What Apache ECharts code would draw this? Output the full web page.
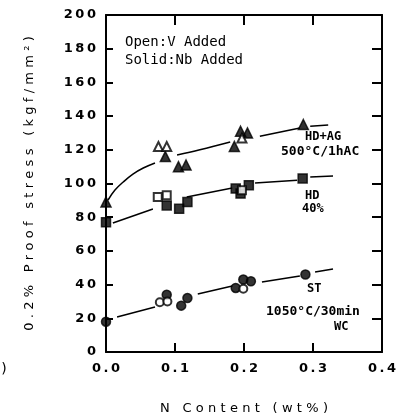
<!DOCTYPE html>
<html>
<head>
<meta charset="utf-8">
<script src="https://cdn.jsdelivr.net/npm/echarts@6/dist/echarts.min.js"></script>
<style>
  html, body { margin: 0; padding: 0; background: #fff; }
  #chart { width: 405px; height: 419px; }
</style>
</head>
<body>
<div id="chart"></div>
<script>
// --- data (x: N wt%, y: kgf/mm2) ---
const hdagSolid = [[0.0, 89], [0.086, 116], [0.105, 110], [0.116, 111], [0.186, 122], [0.195, 131], [0.205, 130], [0.286, 135]]
const hdagOpen = [[0.076, 122], [0.088, 122], [0.197, 127]]
const hdSolid = [[0.0, 77], [0.088, 87], [0.106, 85], [0.118, 89], [0.188, 97], [0.195, 94], [0.207, 99], [0.285, 103]]
const hdOpen = [[0.075, 92], [0.088, 93], [0.197, 96]]
const stSolid = [[0.0, 18], [0.088, 34], [0.109, 27.5], [0.118, 32], [0.188, 38], [0.199, 43], [0.21, 42], [0.289, 46]]
const stOpen = [[0.078, 29.5], [0.089, 30], [0.199, 37.5]]

// broken trend lines, one list per drawn piece
const hdagLine = [
  [[0.003, 90.2], [0.013, 96.1], [0.025, 100.9], [0.039, 105.6], [0.054, 109.2], [0.071, 112.2]],
  [[0.103, 116.9], [0.136, 120], [0.18, 124.6]],
  [[0.223, 128], [0.281, 133]],
  [[0.296, 134], [0.322, 134.7]]
]
const hdLine = [
  [[0.01, 76.6], [0.068, 84.9]],
  [[0.117, 92], [0.183, 97.3]],
  [[0.216, 100.3], [0.277, 102]],
  [[0.296, 103.9], [0.329, 104.5]]
]
const stLine = [
  [[0.016, 20.8], [0.071, 26.7]],
  [[0.133, 34.4], [0.183, 39.2]],
  [[0.226, 41.5], [0.281, 45.1]],
  [[0.303, 47.5], [0.329, 49.3]]
]

const sans = 'DejaVu Sans'
const chart = echarts.init(document.getElementById('chart'))

// spread letters out like the typewriter lettering of the original
const spread = (s, gap) => s.split('').join(gap)

const pieces = (segs) => segs.map(seg => ({
  type: 'line', data: seg, smooth: 0.4, symbol: 'none', silent: true,
  lineStyle: {color: '#000', width: 1.5}, z: 1
}))

const marks = (data, symbol, size) => ({
  type: 'scatter', data: data, symbol: symbol, symbolSize: size,
  itemStyle: {color: '#000', borderColor: '#000', borderWidth: 1.5}, z: 3
})

const axisLine = {show: true, onZero: false, lineStyle: {color: '#000', width: 2}}
const tick = len => ({show: true, inside: true, length: len, lineStyle: {color: '#000', width: 2}})

const note = (text, left, top, font) => ({
  type: 'text', left: left, top: top,
  style: {text: text, font: font + ' "DejaVu Sans Mono"', fill: '#000'}
})

const option = {
  animation: false,
  grid: {left: 106, right: 23, top: 15, bottom: 67, containLabel: false, outerBoundsMode: 'none'},
  xAxis: [
    {
      type: 'value', min: 0, max: 0.4, interval: 0.1,
      axisLine: axisLine, axisTick: tick(9),
      axisLabel: {
        color: '#000', fontFamily: sans, fontWeight: 'bold', fontSize: 13, margin: 10,
        formatter: v => spread(v.toFixed(1), '\u2009')
      },
      splitLine: {show: false},
      name: spread('N Content (wt%)', '\u2004'), nameLocation: 'middle', nameGap: 50,
      nameTextStyle: {color: '#000', fontFamily: sans, fontSize: 13}
    },
    {
      type: 'value', min: 0, max: 0.4, interval: 0.1, position: 'top',
      axisLine: axisLine, axisTick: tick(10),
      axisLabel: {show: false}, splitLine: {show: false}
    }
  ],
  yAxis: [
    {
      type: 'value', min: 0, max: 200, interval: 20,
      axisLine: axisLine, axisTick: tick(7),
      axisLabel: {
        color: '#000', fontFamily: sans, fontWeight: 'bold', fontSize: 13, margin: 10,
        formatter: v => spread(String(v), '\u2009')
      },
      splitLine: {show: false},
      name: spread('0.2% Proof stress (kgf/mm²)', '\u2004'), nameLocation: 'middle', nameGap: 70,
      nameTextStyle: {color: '#000', fontFamily: sans, fontSize: 13}
    },
    {
      type: 'value', min: 0, max: 200, interval: 20, position: 'right',
      axisLine: axisLine, axisTick: tick(10),
      axisLabel: {show: false}, splitLine: {show: false}
    }
  ],
  graphic: [
    note('Open:V Added', 125, 35, '14px'),
    note('Solid:Nb Added', 125, 53, '14px'),
    note('HD+AG', 305, 131, 'bold 12px'),
    note('500°C/1hAC', 281, 145, 'bold 13px'),
    note('HD', 305, 190, 'bold 12px'),
    note('40%', 302, 203, 'bold 12px'),
    note('ST', 307, 283, 'bold 12px'),
    note('1050°C/30min', 266, 305, 'bold 13px'),
    note('WC', 334, 321, 'bold 12px'),
    note(')', 0, 362, '14px')
  ],
  series: [
    ...pieces(hdagLine),
    ...pieces(hdLine),
    ...pieces(stLine),
    marks(hdagSolid, 'triangle', 10),
    marks(hdagOpen, 'emptyTriangle', 9),
    marks(hdSolid, 'rect', 9),
    marks(hdOpen, 'emptyRect', 8),
    marks(stSolid, 'circle', 9),
    marks(stOpen, 'emptyCircle', 8)
  ]
}

chart.setOption(option)
</script>
</body>
</html>
